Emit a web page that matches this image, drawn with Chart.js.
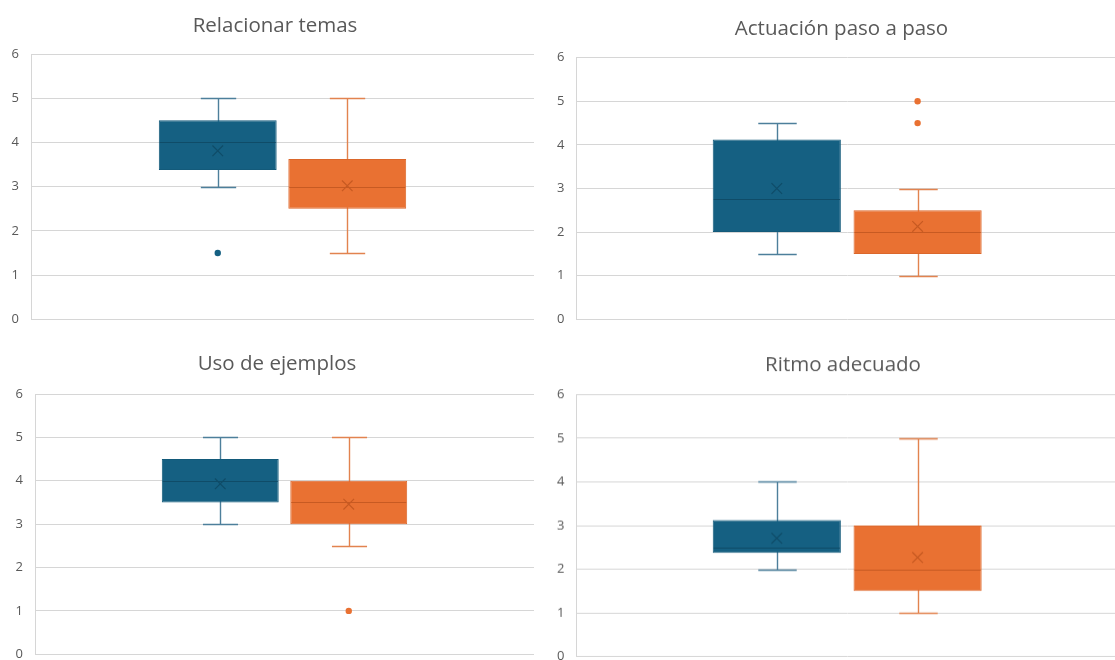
<!DOCTYPE html>
<html lang="es">
<head>
<meta charset="utf-8">
<title>Valoraciones</title>
<script src="https://cdn.jsdelivr.net/npm/chart.js@4.4.1/dist/chart.umd.min.js"></script>
<style>
  html, body { margin: 0; padding: 0; background: #ffffff; width: 1115px; height: 660px; overflow: hidden; position: relative; }
  .panel { position: absolute; }
  .panel canvas { display: block; }
</style>
</head>
<body>
<div class="panel" id="panel0"><canvas id="chart0"></canvas></div>
<div class="panel" id="panel1"><canvas id="chart1"></canvas></div>
<div class="panel" id="panel2"><canvas id="chart2"></canvas></div>
<div class="panel" id="panel3"><canvas id="chart3"></canvas></div>
<script>
// ---- data: one entry per chart ----
const chartTitles = ['Relacionar temas', 'Actuación paso a paso', 'Uso de ejemplos', 'Ritmo adecuado'];
const seriesNames = ['Serie 1', 'Serie 2'];

// Serie 1 (blue) five-number summaries, means and outliers
const s1Min      = [3,     1.5,   3,    2];
const s1Q1       = [3.375, 2,     3.5,  2.375];
const s1Median   = [4,     2.75,  4,    2.5];
const s1Q3       = [4.5,   4.125, 4.5,  3.125];
const s1Max      = [5,     4.5,   5,    4];
const s1Mean     = [3.81,  3.0,   3.93, 2.71];
const s1Outliers = [[1.5], [], [], []];

// Serie 2 (orange)
const s2Min      = [1.5,   1,     2.5,  1];
const s2Q1       = [2.5,   1.5,   3,    1.5];
const s2Median   = [3,     2,     3.5,  2];
const s2Q3       = [3.625, 2.5,   4,    3];
const s2Max      = [5,     3,     5,    5];
const s2Mean     = [3.02,  2.13,  3.46, 2.27];
const s2Outliers = [[], [4.5, 5], [1], []];

// value axis tick labels
const yTickValues = [0, 1, 2, 3, 4, 5, 6];

// ---- styling ----
const palette = [
  { fill: '#156082', border: '#135a7a', dark: '#0f4c68', whisker: '#4d7f9b' },
  { fill: '#E97132', border: '#db672b', dark: '#c75a22', whisker: '#e2834f' }
];
const textColor = '#595959';
const gridColor = '#d6d6d6';
const titleFont = { family: "'Open Sans', 'Noto Sans', sans-serif", size: 20.5, weight: 'normal' };
const tickFont = { family: "'Open Sans', 'Noto Sans', sans-serif", size: 13 };
const bottomRoom = 24;   // room under the plot for the lowest tick label

// page frame of each panel, where its plot area sits and where its title is centred (page pixels)
const frames = [
  { left: 0,   top: 0,   plotLeft: 31,    plotRight: 534,  plotTop: 54,    plotBottom: 319.3, titleX: 275,   titleY: 26.5,  catPct: 0.515 },
  { left: 545, top: 0,   plotLeft: 576.4, plotRight: 1118, plotTop: 57.7,  plotBottom: 319.3, titleX: 841.5, titleY: 29.5,  catPct: 0.52 },
  { left: 0,   top: 330, plotLeft: 35,    plotRight: 534,  plotTop: 394,   plotBottom: 654.3, titleX: 277,   titleY: 364.5, catPct: 0.515 },
  { left: 545, top: 330, plotLeft: 576.4, plotRight: 1118, plotTop: 394.3, plotBottom: 655.7, titleX: 843,   titleY: 364.8, catPct: 0.52 }
];

// whiskers, caps, median line, mean cross and outlier dots for each box
const boxExtras = {
  id: 'boxExtras',
  beforeDatasetsDraw(chart, args, opts) {
    const ctx = chart.ctx;
    const y = chart.scales.y;
    opts.stats.forEach((st, i) => {
      const bar = chart.getDatasetMeta(i).data[0];
      if (!bar) return;
      const x = Math.round(bar.x) + 0.5;
      const cap = bar.width * 0.15;
      const yMin = Math.round(y.getPixelForValue(st.min)) + 0.5;
      const yMax = Math.round(y.getPixelForValue(st.max)) + 0.5;
      ctx.save();
      ctx.strokeStyle = st.whisker;
      ctx.lineWidth = 1.4;
      ctx.beginPath();
      ctx.moveTo(x, yMax); ctx.lineTo(x, yMin);
      ctx.moveTo(x - cap, yMax); ctx.lineTo(x + cap, yMax);
      ctx.moveTo(x - cap, yMin); ctx.lineTo(x + cap, yMin);
      ctx.stroke();
      ctx.restore();
    });
  },
  afterDatasetsDraw(chart, args, opts) {
    const ctx = chart.ctx;
    const y = chart.scales.y;
    opts.stats.forEach((st, i) => {
      const bar = chart.getDatasetMeta(i).data[0];
      if (!bar) return;
      const half = bar.width / 2;
      const x = bar.x;
      ctx.save();
      // median
      const yMed = Math.round(y.getPixelForValue(st.median)) + 0.5;
      ctx.strokeStyle = st.dark;
      ctx.lineWidth = 1.2;
      ctx.beginPath();
      ctx.moveTo(x - half + 1, yMed); ctx.lineTo(x + half - 1, yMed);
      ctx.stroke();
      // mean
      const yMean = y.getPixelForValue(st.mean);
      const r = 5.3;
      ctx.lineWidth = 1.2;
      ctx.beginPath();
      ctx.moveTo(x - r, yMean - r); ctx.lineTo(x + r, yMean + r);
      ctx.moveTo(x - r, yMean + r); ctx.lineTo(x + r, yMean - r);
      ctx.stroke();
      // outliers
      ctx.fillStyle = st.fill;
      st.outliers.forEach(v => {
        ctx.beginPath();
        ctx.arc(x, y.getPixelForValue(v), 3.2, 0, Math.PI * 2);
        ctx.fill();
      });
      ctx.restore();
    });
  }
};

function buildChart(k) {
  const f = frames[k];
  // the full-width title is centred on the canvas, so the canvas spans twice the title offset;
  // an empty right-hand axis fills the space between the plot and the canvas edge
  const width = 2 * (f.titleX - f.left);
  const spacerWidth = f.left + width - f.plotRight;
  const height = f.plotBottom - f.top + bottomRoom;
  const holder = document.getElementById('panel' + k);
  holder.style.left = f.left + 'px';
  holder.style.top = f.top + 'px';
  holder.style.width = width + 'px';
  holder.style.height = height + 'px';

  const yAxisWidth = f.plotLeft - f.left;
  const titleH = titleFont.size * 1.2;
  const titlePadTop = f.titleY - f.top - titleH / 2;
  const titlePadBottom = f.plotTop - f.top - titlePadTop - titleH;

  const summaries = [
    { min: s1Min[k], q1: s1Q1[k], median: s1Median[k], q3: s1Q3[k], max: s1Max[k], mean: s1Mean[k], outliers: s1Outliers[k] },
    { min: s2Min[k], q1: s2Q1[k], median: s2Median[k], q3: s2Q3[k], max: s2Max[k], mean: s2Mean[k], outliers: s2Outliers[k] }
  ];

  const datasets = summaries.map((s, i) => ({
    label: seriesNames[i],
    data: [[s.q1, s.q3]],
    xAxisID: 'x',
    yAxisID: 'y',
    backgroundColor: palette[i].fill,
    borderColor: palette[i].border,
    borderWidth: 1,
    borderSkipped: false,
    barPercentage: 0.91,
    categoryPercentage: f.catPct
  }));

  new Chart(document.getElementById('chart' + k), {
    type: 'bar',
    data: { labels: [chartTitles[k]], datasets },
    plugins: [boxExtras],
    options: {
      responsive: true,
      maintainAspectRatio: false,
      animation: false,
      devicePixelRatio: 1,
      layout: { padding: { left: 0, top: 0, right: 0, bottom: bottomRoom } },
      plugins: {
        legend: { display: false },
        tooltip: { enabled: false },
        title: {
          display: true,
          text: chartTitles[k],
          color: textColor,
          font: titleFont,
          padding: { top: titlePadTop, bottom: titlePadBottom }
        },
        boxExtras: {
          stats: summaries.map((s, i) => Object.assign({}, s, palette[i]))
        }
      },
      scales: {
        x: { display: false },
        y: {
          position: 'left',
          min: yTickValues[0],
          max: yTickValues[yTickValues.length - 1],
          afterBuildTicks: scale => { scale.ticks = yTickValues.map(v => ({ value: v })); },
          afterFit: scale => { scale.width = yAxisWidth; },
          grid: { color: gridColor, lineWidth: 1, drawTicks: false },
          border: { display: true, color: gridColor, width: 1 },
          ticks: { color: textColor, font: tickFont, padding: 12 }
        },
        spacer: {
          type: 'linear',
          axis: 'y',
          position: 'right',
          min: yTickValues[0],
          max: yTickValues[yTickValues.length - 1],
          grid: { display: false, drawTicks: false },
          border: { display: false },
          ticks: { display: false },
          afterFit: scale => { scale.width = spacerWidth; }
        }
      }
    }
  });
}

[0, 1, 2, 3].forEach(buildChart);
</script>
</body>
</html>
